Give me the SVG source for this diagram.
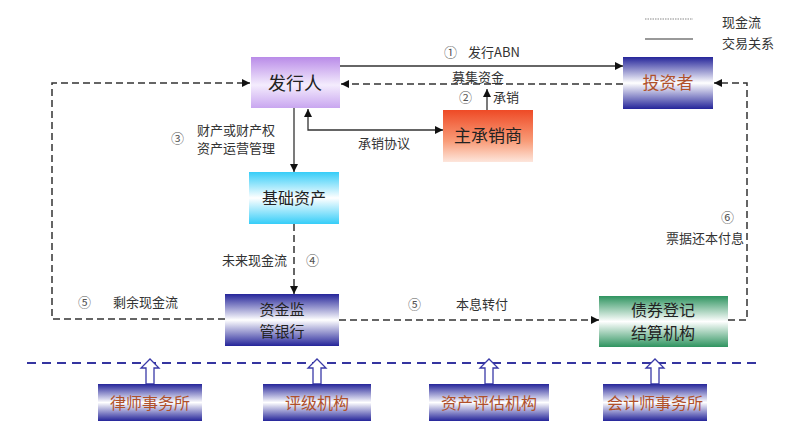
<svg xmlns="http://www.w3.org/2000/svg" width="807" height="431" viewBox="0 0 807 431">
<defs>
<linearGradient id="gPurple" x1="0" y1="0" x2="0" y2="1"><stop offset="0" stop-color="#b98be8"/><stop offset="0.55" stop-color="#f4ecfd"/><stop offset="1" stop-color="#c9a6f0"/></linearGradient>
<linearGradient id="gOrange" x1="0" y1="0" x2="0" y2="1"><stop offset="0" stop-color="#ee4a26"/><stop offset="0.6" stop-color="#f99c78"/><stop offset="1" stop-color="#fde6dc"/></linearGradient>
<linearGradient id="gBlue" x1="0" y1="0" x2="0" y2="1"><stop offset="0" stop-color="#25259a"/><stop offset="0.5" stop-color="#ffffff"/><stop offset="1" stop-color="#25259a"/></linearGradient>
<linearGradient id="gCyan" x1="0" y1="0" x2="0" y2="1"><stop offset="0" stop-color="#35cdf8"/><stop offset="0.5" stop-color="#ffffff"/><stop offset="1" stop-color="#35cdf8"/></linearGradient>
<linearGradient id="gGreen" x1="0" y1="0" x2="0" y2="1"><stop offset="0" stop-color="#2f9460"/><stop offset="0.5" stop-color="#ffffff"/><stop offset="1" stop-color="#2f9460"/></linearGradient>
<marker id="ah" markerWidth="8" markerHeight="8" refX="8" refY="4" orient="auto-start-reverse" markerUnits="userSpaceOnUse"><path d="M0,0 L8,4 L0,8 z" fill="#111"/></marker>
</defs>
<style>
text{font-family:"Noto Sans CJK SC","Liberation Sans",sans-serif;}
.lbl{font-size:13px;fill:#333;}
.num{font-size:13px;fill:#555;}
.solid{fill:none;stroke:#333;stroke-width:1.3;}
.dash{fill:none;stroke:#333;stroke-width:1.5;stroke-dasharray:7 4;}
.nt{font-size:17px;fill:#222;text-anchor:middle;}
.bt{font-size:16px;fill:#b0502a;text-anchor:middle;}
.hollow{fill:#fff;stroke:#3a3aa8;stroke-width:1.3;}
</style>
<g id="legend">
<line x1="645" y1="19" x2="693" y2="19" stroke="#888" stroke-width="1" stroke-dasharray="1.5 1"/>
<line x1="645" y1="39" x2="693" y2="39" stroke="#777" stroke-width="1.3"/>
<text x="722" y="27" class="lbl">现金流</text>
<text x="722" y="48" class="lbl">交易关系</text>
</g>
<g id="connectors">
<line class="solid" x1="340" y1="66" x2="623" y2="66" marker-end="url(#ah)"/>
<line class="dash" x1="623" y1="84" x2="341" y2="84" marker-end="url(#ah)"/>
<line class="solid" x1="487" y1="110" x2="487" y2="89" marker-end="url(#ah)"/>
<polyline class="solid" points="308,109 308,130 443,130" marker-start="url(#ah)" marker-end="url(#ah)"/>
<line class="solid" x1="294" y1="108" x2="294" y2="172" marker-end="url(#ah)"/>
<line class="dash" x1="294" y1="224" x2="294" y2="294" marker-end="url(#ah)"/>
<polyline class="dash" points="225,319 52,319 52,83 250,83" marker-end="url(#ah)"/>
<line class="dash" x1="339" y1="320" x2="599" y2="320" marker-end="url(#ah)"/>
<polyline class="dash" points="728,320 747,320 747,83 714,83" marker-end="url(#ah)"/>
<line x1="27" y1="363" x2="762" y2="363" stroke="#3535a0" stroke-width="2" stroke-dasharray="9 6"/>
<path class="hollow" d="M146,384 L146,368 L141,368 L150,359 L159,368 L154,368 L154,384 Z"/>
<path class="hollow" d="M313,384 L313,368 L308,368 L317,359 L326,368 L321,368 L321,384 Z"/>
<path class="hollow" d="M485,384 L485,368 L480,368 L489,359 L498,368 L493,368 L493,384 Z"/>
<path class="hollow" d="M651,384 L651,368 L646,368 L655,359 L664,368 L659,368 L659,384 Z"/>
<text x="444" y="57" class="num">①</text>
<text x="468" y="57" class="lbl">发行ABN</text>
<text x="478" y="82" class="lbl" text-anchor="middle">募集资金</text>
<text x="459" y="102" class="num">②</text>
<text x="493" y="102" class="lbl">承销</text>
<text x="358" y="148" class="lbl">承销协议</text>
<text x="171" y="143" class="num">③</text>
<text x="197" y="135" class="lbl">财产或财产权</text>
<text x="197" y="153" class="lbl">资产运营管理</text>
<text x="222" y="265" class="lbl">未来现金流</text>
<text x="306" y="265" class="num">④</text>
<text x="78" y="307" class="num">⑤</text>
<text x="113" y="307" class="lbl">剩余现金流</text>
<text x="408" y="309" class="num">⑤</text>
<text x="456" y="309" class="lbl">本息转付</text>
<text x="721" y="222" class="num">⑥</text>
<text x="744" y="243" class="lbl" text-anchor="end">票据还本付息</text>
</g>
<g id="n-issuer"><rect x="251" y="57" width="89" height="51" fill="url(#gPurple)"/><text x="295" y="90" class="nt" style="font-size:18px">发行人</text></g>
<g id="n-underwriter"><rect x="443" y="110" width="90" height="52" fill="url(#gOrange)"/><text x="488" y="142" class="nt">主承销商</text></g>
<g id="n-investor"><rect x="623" y="57" width="90" height="52" fill="url(#gBlue)"/><text x="668" y="89" class="nt" style="fill:#b0502a">投资者</text></g>
<g id="n-asset"><rect x="249" y="172" width="90" height="52" fill="url(#gCyan)"/><text x="294" y="204" class="nt" style="font-size:16px">基础资产</text></g>
<g id="n-bank"><rect x="225" y="294" width="114" height="52" fill="url(#gBlue)"/><text x="282" y="315" class="nt" style="font-size:15px">资金监</text><text x="282" y="337" class="nt" style="font-size:15px">管银行</text></g>
<g id="n-clearing"><rect x="599" y="296" width="129" height="51" fill="url(#gGreen)"/><text x="663" y="316" class="nt" style="font-size:16px">债券登记</text><text x="663" y="339" class="nt" style="font-size:16px">结算机构</text></g>
<g id="n-law"><rect x="98" y="384" width="104" height="37" fill="url(#gBlue)"/><text x="150" y="409" class="bt">律师事务所</text></g>
<g id="n-rating"><rect x="263" y="384" width="108" height="37" fill="url(#gBlue)"/><text x="317" y="409" class="bt">评级机构</text></g>
<g id="n-appraisal"><rect x="429" y="384" width="120" height="37" fill="url(#gBlue)"/><text x="489" y="409" class="bt">资产评估机构</text></g>
<g id="n-accounting"><rect x="603" y="384" width="104" height="37" fill="url(#gBlue)"/><text x="655" y="409" class="bt">会计师事务所</text></g>
</svg>
